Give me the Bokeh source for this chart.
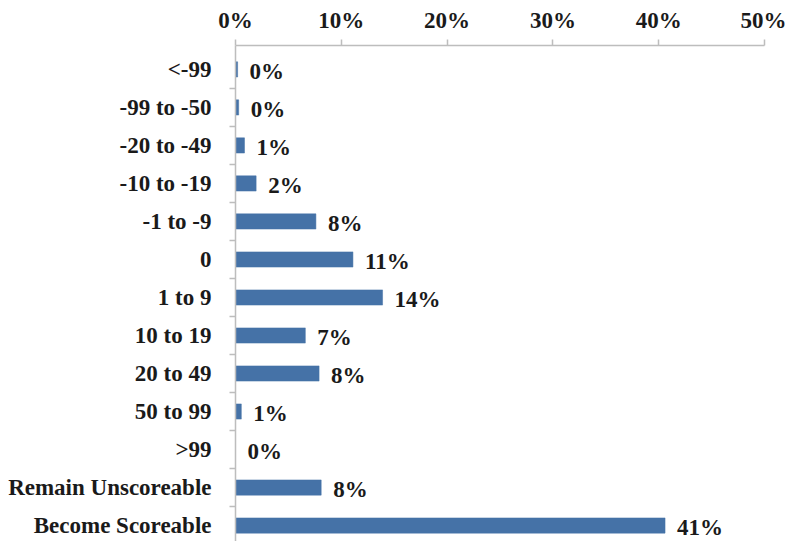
from bokeh.plotting import figure
from bokeh.models import Range1d, FixedTicker, PrintfTickFormatter, ColumnDataSource
from bokeh.core.properties import value
from bokeh.embed import file_html
from bokeh.resources import INLINE

# Change in score bands, listed top to bottom
categories = ["<-99", "-99 to -50", "-20 to -49", "-10 to -19", "-1 to -9", "0",
              "1 to 9", "10 to 19", "20 to 49", "50 to 99", ">99",
              "Remain Unscoreable", "Become Scoreable"]
# Share of records in each band (percent)
shares = [0.2, 0.3, 0.85, 1.95, 7.6, 11.1, 13.9, 6.6, 7.9, 0.55, 0.0, 8.1, 40.6]
x_ticks = [0, 10, 20, 30, 40, 50]

FONT = "Liberation Serif"
FONT_SIZE = "23px"
BAR = "#4572a7"
AXIS = "#bdbdbd"
TEXT = "#1a1a1a"

positions = list(range(len(categories)))
src = ColumnDataSource(dict(
    y=positions,
    v=shares,
    lab=[f"{round(s)}%" for s in shares],
))

p = figure(width=786, height=541, output_backend="svg", toolbar_location=None,
           x_range=Range1d(0, 50), y_range=Range1d(12.42, -0.63),
           x_axis_location="above", min_border_left=235, min_border_right=22,
           min_border_top=45, min_border_bottom=0)

p.hbar(y="y", left=0, right="v", height=0.4, source=src,
       fill_color=BAR, line_color=BAR, line_width=0.5)

p.text(x="v", y="y", text="lab", source=src, x_offset=12, y_offset=2,
       text_font=value(FONT), text_font_style="bold", text_font_size=FONT_SIZE,
       text_color=TEXT, text_baseline="middle", text_align="left")

p.xgrid.visible = False
p.ygrid.visible = False
p.outline_line_color = None
p.background_fill_color = "white"
p.border_fill_color = "white"

# Top percentage axis
xa = p.xaxis[0]
xa.ticker = FixedTicker(ticks=x_ticks)
xa.formatter = PrintfTickFormatter(format="%d%%")
xa.axis_line_color = AXIS
xa.axis_line_width = 1.5
xa.major_tick_line_color = AXIS
xa.major_tick_line_width = 1.5
xa.major_tick_in = 0
xa.major_tick_out = 6
xa.minor_tick_line_color = None
xa.major_label_standoff = 7
xa.major_label_text_font = FONT
xa.major_label_text_font_style = "bold"
xa.major_label_text_font_size = FONT_SIZE
xa.major_label_text_color = TEXT

# Left category axis: labels at band centres, tick marks between bands
ya = p.yaxis[0]
ya.ticker = FixedTicker(ticks=positions,
                        minor_ticks=[i + 0.5 for i in positions[:-1]])
ya.major_label_overrides = {i: c for i, c in enumerate(categories)}
ya.axis_line_color = AXIS
ya.axis_line_width = 1.5
ya.major_tick_line_color = None
ya.major_tick_in = 0
ya.major_tick_out = 0
ya.minor_tick_line_color = AXIS
ya.minor_tick_line_width = 1.5
ya.minor_tick_in = 0
ya.minor_tick_out = 6
ya.major_label_standoff = 18
ya.major_label_text_font = FONT
ya.major_label_text_font_style = "bold"
ya.major_label_text_font_size = FONT_SIZE
ya.major_label_text_color = TEXT

open("out.html", "w").write(file_html(p, INLINE))
